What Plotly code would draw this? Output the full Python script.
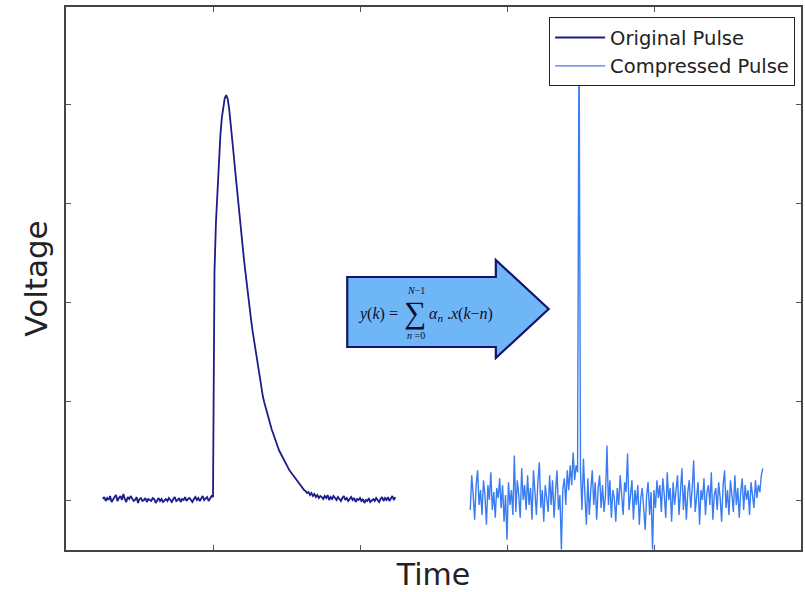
import numpy as np
import plotly.graph_objects as go

# Sample grids (time units) for the two traces
T0_ORIG, T0_COMP, DT = 0.25, 2.75, 0.01

# Original detector pulse: flat baseline, fast rise, exponential-like tail
v_orig = [
    0.01, 0.03, -0.01, 0.02, 0.00, 0.04, -0.02, 0.01, 0.03, 0.05,
    -0.01, 0.02, 0.04, 0.00, 0.06, 0.01, -0.02, 0.03, 0.01, 0.04,
    0.02, -0.01, 0.00, 0.03, -0.03, 0.01, 0.02, -0.01, 0.00, 0.02,
    -0.02, 0.01, 0.00, -0.01, 0.02, 0.01, -0.03, 0.00, 0.02, -0.01,
    0.01, -0.02, 0.00, 0.01, -0.01, 0.02, 0.00, -0.02, 0.01, 0.03,
    -0.01, 0.00, 0.02, -0.02, 0.01, 0.00, 0.03, -0.01, 0.01, 0.02,
    0.00, -0.02, 0.01, 0.03, 0.00, 0.02, -0.01, 0.01, 0.04, 0.00,
    0.02, 0.03, -0.01, 0.02, 0.04,
    0.03, 2.30, 2.80, 3.15, 3.45, 3.68, 3.86, 3.98, 4.06, 4.09,
    4.05, 3.95, 3.82, 3.66, 3.50, 3.34, 3.18, 3.02, 2.87, 2.72,
    2.58, 2.44, 2.31, 2.17, 2.05, 1.93, 1.81, 1.70, 1.60, 1.50,
    1.41, 1.32, 1.24, 1.12, 1.04, 0.98, 0.92, 0.86, 0.81, 0.76,
    0.71, 0.67, 0.62, 0.58, 0.54, 0.50, 0.47, 0.44, 0.41, 0.38,
    0.35, 0.33, 0.30, 0.28, 0.26, 0.23, 0.21, 0.19, 0.17, 0.16,
    0.14, 0.12, 0.10, 0.09, 0.07,
    0.08, 0.05, 0.07, 0.04, 0.06, 0.03, 0.05, 0.02, 0.04, 0.03,
    0.01, 0.04, 0.02, 0.05, 0.00, 0.03, 0.01, 0.04, 0.02, 0.00,
    0.03, 0.01, -0.01, 0.02, 0.04, 0.00, 0.02, -0.01, 0.01, 0.03,
    0.00, 0.02, -0.02, 0.01, 0.00, 0.02, -0.01, 0.01, -0.03, 0.00,
    -0.01, 0.02, -0.02, 0.00, 0.01, -0.01, 0.02, 0.00, -0.02, 0.01,
    0.03, -0.01, 0.02, 0.00, 0.03, -0.01, 0.02, 0.04, 0.00, 0.03,
]

# Compressed pulse: noisy baseline with a single-sample spike
v_comp = [
    -0.10, 0.25, 0.05, -0.20, 0.15, 0.30, -0.05, 0.10, -0.15, 0.20,
    0.05, -0.25, 0.15, 0.00, 0.28, -0.10, 0.08, -0.18, 0.12, 0.02,
    0.22, -0.08, 0.15, -0.22, 0.05, -0.40, 0.18, -0.05, 0.10, -0.15,
    0.45, -0.12, 0.20, 0.05, -0.18, 0.32, 0.00, 0.15, -0.10, 0.25,
    -0.05, 0.12, -0.20, 0.30, 0.08, -0.15, 0.18, 0.38, -0.08, 0.10,
    -0.22, 0.15, 0.02, -0.12, 0.25, -0.05, 0.20, -0.18, 0.08, 0.30,
    -0.10, 0.05, -0.50, 0.12, 0.22, -0.05, 0.30, 0.10, 0.35, 0.15,
    0.48, 0.20, 0.35, 0.28, 4.80, 0.30, -0.10, 0.42, 0.05, -0.25,
    0.22, -0.15, 0.10, 0.30, -0.05, 0.18, -0.20, 0.12, 0.25, -0.08,
    0.15, -0.12, 0.05, 0.55, -0.05, 0.20, -0.18, 0.10, 0.02, -0.22,
    0.12, -0.05, 0.25, 0.00, -0.15, 0.18, 0.08, 0.47, -0.10, 0.05,
    0.20, -0.20, 0.10, -0.05, 0.15, -0.25, 0.02, 0.12, -0.10, -0.30,
    0.05, 0.18, -0.15, 0.08, -0.50, 0.10, -0.08, 0.20, 0.02, 0.15,
    -0.12, 0.22, 0.05, -0.18, 0.28, 0.00, 0.12, -0.22, 0.18, -0.05,
    0.10, 0.25, -0.15, 0.05, 0.32, -0.10, 0.15, -0.20, 0.08, 0.20,
    -0.08, 0.12, 0.40, -0.12, 0.05, 0.18, -0.25, 0.10, 0.00, 0.22,
    -0.15, 0.08, 0.15, -0.05, 0.28, -0.20, 0.05, 0.12, -0.10, 0.18,
    0.02, -0.22, 0.15, 0.30, -0.08, 0.10, -0.15, 0.20, 0.05, -0.12,
    0.25, -0.05, 0.12, -0.18, 0.08, 0.22, -0.10, 0.15, 0.00, 0.10,
    -0.15, 0.18, 0.05, -0.08, 0.20, 0.02, 0.15, 0.08, 0.25, 0.32,
]

t_orig = T0_ORIG + DT * np.arange(len(v_orig))
t_comp = T0_COMP + DT * np.arange(len(v_comp))

x_ticks = [0, 1, 2, 3, 4, 5]
y_ticks = [0, 1, 2, 3, 4]

# Figure geometry (pixels)
W, H = 805, 592
L, R, T, B = 66, 2, 7, 42
X_RANGE = [0, 5]
Y_RANGE = [-0.505, 4.98]


def dx(px):
    """Horizontal pixel -> x data value."""
    return X_RANGE[0] + (px - L) / (W - L - R) * (X_RANGE[1] - X_RANGE[0])


def dy(py):
    """Vertical pixel -> y data value."""
    return Y_RANGE[1] - (py - T) / (H - T - B) * (Y_RANGE[1] - Y_RANGE[0])


fig = go.Figure()
fig.add_trace(go.Scatter(
    x=t_orig, y=v_orig, mode="lines", name="Original Pulse",
    line=dict(color="#1c1c8a", width=1.8),
))
fig.add_trace(go.Scatter(
    x=t_comp, y=v_comp, mode="lines", name="Compressed Pulse",
    line=dict(color="#3a7cf2", width=1.4),
))

# Block arrow carrying the FIR filter equation
arrow_pts = [(348, 277), (497, 277), (497, 260), (550, 309),
             (497, 358), (497, 347), (348, 347)]
path = "M " + " L ".join(f"{dx(a):.4f},{dy(b):.4f}" for a, b in arrow_pts) + " Z"
fig.add_shape(type="path", path=path, xref="x", yref="y",
              fillcolor="#6fb6f6", line=dict(color="#14146e", width=2.2),
              layer="above")

serif = "Liberation Serif"
eq = [
    dict(text="<i>y</i>(<i>k</i>) =", px=401, py=314, size=16, xanchor="right"),
    dict(text="\u2211", px=416, py=312, size=31, xanchor="center"),
    dict(text="<i>N</i>\u22121", px=417, py=290, size=10, xanchor="center"),
    dict(text="<i>n</i> =0", px=417, py=335, size=10, xanchor="center"),
    dict(text="<i>\u03b1<sub>n</sub></i> .<i>x</i>(<i>k</i>\u2212<i>n</i>)",
         px=428, py=314, size=16, xanchor="left"),
]
for e in eq:
    fig.add_annotation(x=dx(e["px"]), y=dy(e["py"]), xref="x", yref="y",
                       text=e["text"], showarrow=False, xanchor=e["xanchor"],
                       yanchor="middle",
                       font=dict(family=serif, size=e["size"], color="#0d0d2e"))

axis_common = dict(
    showgrid=False, zeroline=False, showline=True, linecolor="#444444",
    linewidth=1.5, mirror="ticks", ticks="inside", ticklen=5, tickwidth=1,
    tickcolor="#555555", showticklabels=False,
)

fig.update_layout(
    width=W, height=H,
    margin=dict(l=L, r=R, t=T, b=B),
    paper_bgcolor="white", plot_bgcolor="white",
    font=dict(family="DejaVu Sans", color="#222222"),
    xaxis=dict(range=X_RANGE, tickvals=x_ticks,
               title=dict(text="Time", font=dict(size=30), standoff=18),
               **axis_common),
    yaxis=dict(range=Y_RANGE, tickvals=y_ticks,
               title=dict(text="Voltage", font=dict(size=31), standoff=7),
               **axis_common),
    legend=dict(x=0.992, y=0.981, xanchor="right", yanchor="top",
                bgcolor="white", bordercolor="#222222", borderwidth=1,
                itemwidth=50,
                font=dict(size=19.5, color="#222222"), tracegroupgap=0),
    showlegend=True,
)

fig.write_html("out.html")
